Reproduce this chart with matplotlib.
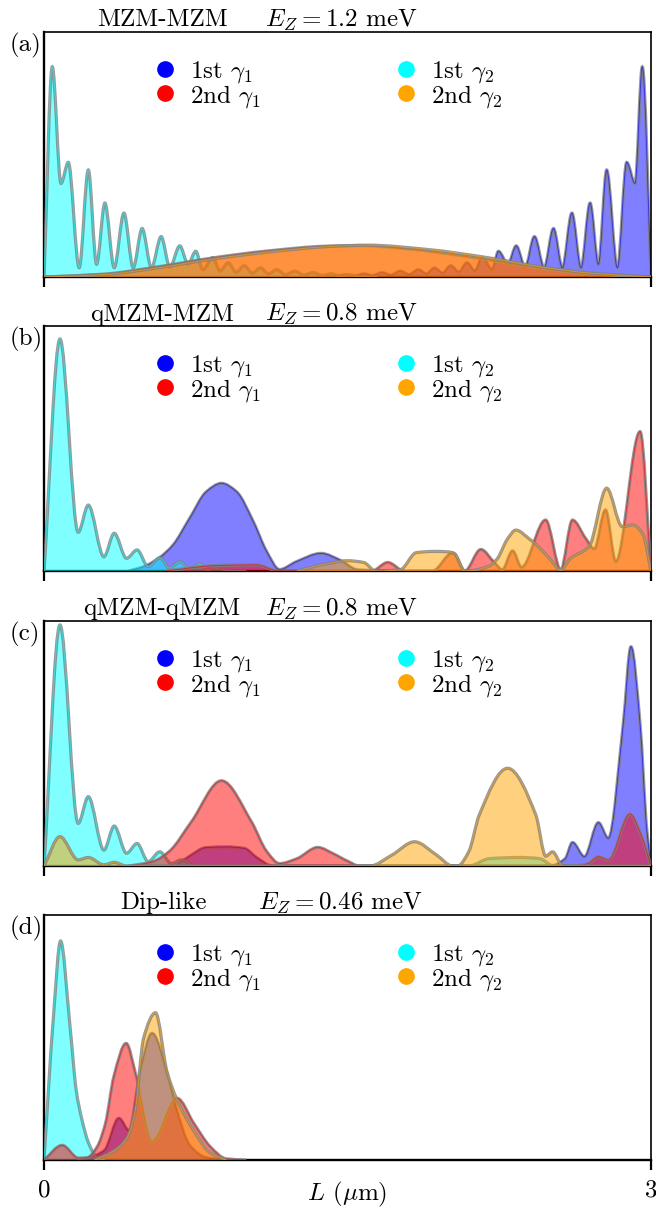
"""Majorana density profiles along the wire for four Zeeman regimes."""

import numpy as np
import matplotlib

matplotlib.use("Agg")
import matplotlib.pyplot as plt
from matplotlib.lines import Line2D
from matplotlib.patches import PathPatch
from matplotlib.path import Path

plt.rcParams["font.family"] = "serif"
plt.rcParams["font.serif"] = ["cmr10"]
plt.rcParams["mathtext.fontset"] = "cm"
plt.rcParams["axes.unicode_minus"] = False

_COLORS = {"blue": "#0000ff", "red": "#ff0000", "cyan": "#00ffff", "orange": "#ffa500"}

# ---- data: L in um, density as fraction of panel height ----
A_BLUE_L = [1.35, 1.44, 1.49, 1.535, 1.58, 1.625, 1.67, 1.715, 1.76, 1.805, 1.85, 1.89,
            1.93, 1.97, 2.01, 2.05, 2.09, 2.13, 2.166, 2.215, 2.246, 2.293, 2.334, 2.378,
            2.424, 2.472, 2.518, 2.562, 2.609, 2.654, 2.699, 2.740, 2.781, 2.834, 2.880,
            2.921, 2.957, 3.0]
A_BLUE_P = [0.0, 0.002, 0.009, 0.004, 0.013, 0.006, 0.018, 0.008, 0.024, 0.010, 0.030, 0.013,
            0.037, 0.016, 0.046, 0.020, 0.058, 0.025, 0.079, 0.030, 0.105, 0.053, 0.127, 0.040,
            0.165, 0.038, 0.198, 0.038, 0.261, 0.038, 0.302, 0.052, 0.437, 0.038, 0.468,
            0.382, 0.858, 0.0]
A_CYAN_L = [0.0, 0.041, 0.084, 0.120, 0.174, 0.219, 0.260, 0.301, 0.347, 0.395, 0.441, 0.485,
            0.531, 0.579, 0.622, 0.671, 0.712, 0.750, 0.785, 0.834, 0.87, 0.91, 0.95, 0.99,
            1.03, 1.07, 1.11, 1.15, 1.195, 1.24, 1.285, 1.33, 1.375, 1.42, 1.465, 1.51, 1.56,
            1.65]
A_CYAN_P = [0.0, 0.858, 0.382, 0.468, 0.038, 0.437, 0.052, 0.302, 0.038, 0.261, 0.038, 0.198,
            0.038, 0.165, 0.040, 0.127, 0.053, 0.105, 0.030, 0.079, 0.025, 0.058, 0.020, 0.046,
            0.016, 0.037, 0.013, 0.030, 0.010, 0.024, 0.008, 0.018, 0.006, 0.013, 0.004, 0.009,
            0.002, 0.0]
A_RED_L = [0.0, 0.3, 0.55, 0.85, 1.1, 1.4, 1.55, 1.8, 2.1, 2.4, 2.7, 3.0]
A_RED_P = [0.0, 0.012, 0.040, 0.080, 0.106, 0.126, 0.128, 0.114, 0.082, 0.043, 0.013, 0.0]
A_ORANGE_L = [0.0, 0.3, 0.55, 0.85, 1.1, 1.4, 1.6, 1.9, 2.2, 2.45, 2.7, 3.0]
A_ORANGE_P = [0.0, 0.010, 0.036, 0.075, 0.101, 0.124, 0.130, 0.112, 0.078, 0.042, 0.016, 0.0]

B_BLUE_L = [0.42, 0.5, 0.572, 0.638, 0.72, 0.803, 0.877, 0.951, 1.033, 1.099, 1.164, 1.247,
            1.37, 1.461, 1.55, 1.7]
B_BLUE_P = [0.0, 0.02, 0.055, 0.106, 0.215, 0.324, 0.358, 0.324, 0.204, 0.082, 0.006, 0.038,
            0.072, 0.045, 0.005, 0.0]
B_CYAN_L = [0.0, 0.079, 0.169, 0.219, 0.296, 0.347, 0.408, 0.460, 0.515, 0.572, 0.62, 0.671,
            0.72, 0.770, 0.81, 0.852, 0.9, 1.0]
B_CYAN_P = [0.0, 0.947, 0.158, 0.269, 0.058, 0.154, 0.052, 0.086, 0.018, 0.054, 0.012, 0.038,
            0.008, 0.029, 0.005, 0.018, 0.003, 0.0]
B_RED_L = [0.6, 0.85, 1.05, 1.16, 1.62, 1.699, 1.78, 1.92, 2.02, 2.08, 2.159, 2.225, 2.265,
           2.316, 2.36, 2.479, 2.554, 2.612, 2.677, 2.72, 2.775, 2.826, 2.946, 3.0]
B_RED_P = [0.0, 0.022, 0.025, 0.0, 0.0, 0.035, 0.0, 0.0, 0.074, 0.0, 0.088, 0.035, 0.005,
           0.082, 0.015, 0.208, 0.004, 0.208, 0.133, 0.09, 0.249, 0.038, 0.569, 0.0]
B_ORANGE_L = [1.25, 1.4, 1.5, 1.58, 1.64, 1.76, 1.84, 1.93, 2.0, 2.03, 2.08, 2.2, 2.24, 2.29,
              2.332, 2.4, 2.43, 2.5, 2.554, 2.6, 2.694, 2.781, 2.858, 2.91, 2.96, 3.0]
B_ORANGE_P = [0.0, 0.03, 0.042, 0.035, 0.0, 0.005, 0.075, 0.08, 0.078, 0.07, 0.0, 0.02, 0.05,
              0.13, 0.167, 0.13, 0.11, 0.05, 0.004, 0.05, 0.10, 0.338, 0.181, 0.188, 0.15, 0.0]

C_BLUE_L = [0.65, 0.72, 0.8, 0.9, 0.99, 1.05, 1.13, 2.5, 2.576, 2.612, 2.671, 2.740, 2.789,
            2.863, 2.901, 2.946, 2.979, 3.0]
C_BLUE_P = [0.0, 0.04, 0.075, 0.078, 0.072, 0.035, 0.0, 0.0, 0.03, 0.096, 0.038, 0.177, 0.113,
            0.582, 0.895, 0.58, 0.15, 0.0]
C_CYAN_L = [0.0, 0.079, 0.169, 0.219, 0.296, 0.347, 0.408, 0.460, 0.515, 0.572, 0.63, 0.68,
            0.75, 2.1, 2.2, 2.35, 2.45, 2.52, 3.0]
C_CYAN_P = [0.0, 0.984, 0.174, 0.283, 0.065, 0.163, 0.052, 0.092, 0.018, 0.058, 0.010, 0.025,
            0.0, 0.0, 0.03, 0.035, 0.03, 0.0, 0.0]
C_RED_L = [0.42, 0.539, 0.62, 0.729, 0.877, 1.025, 1.1, 1.164, 1.25, 1.353, 1.43, 1.5, 1.56,
           2.62, 2.69, 2.740, 2.79, 2.896, 2.954, 3.0]
C_RED_P = [0.0, 0.018, 0.06, 0.181, 0.348, 0.181, 0.06, 0.01, 0.03, 0.076, 0.05, 0.02, 0.0,
           0.0, 0.01, 0.038, 0.025, 0.212, 0.12, 0.0]
C_ORANGE_L = [0.0, 0.079, 0.169, 0.219, 0.296, 0.347, 0.408, 1.61, 1.72, 1.831, 1.94, 2.02,
              2.044, 2.1, 2.151, 2.291, 2.431, 2.48, 2.513, 2.565, 3.0]
C_ORANGE_P = [0.0, 0.12, 0.025, 0.035, 0.005, 0.015, 0.0, 0.0, 0.045, 0.099, 0.045, 0.0,
              0.0, 0.06, 0.208, 0.399, 0.208, 0.04, 0.058, 0.0, 0.0]

D_BLUE_L = [0.2, 0.3, 0.37, 0.42, 0.477, 0.534, 0.608, 0.65, 0.72, 0.8, 0.9]
D_BLUE_P = [0.0, 0.04, 0.17, 0.12, 0.367, 0.517, 0.354, 0.22, 0.06, 0.01, 0.0]
D_CYAN_L = [0.0, 0.046, 0.082, 0.128, 0.16, 0.186, 0.22, 0.26, 0.30]
D_CYAN_P = [0.0, 0.578, 0.894, 0.551, 0.28, 0.17, 0.07, 0.012, 0.0]
D_RED_L = [0.0, 0.09, 0.17, 0.214, 0.263, 0.304, 0.345, 0.406, 0.452, 0.534, 0.658, 0.74,
           0.822, 0.9, 1.0]
D_RED_P = [0.0, 0.06, 0.008, 0.01, 0.054, 0.15, 0.34, 0.476, 0.354, 0.075, 0.252, 0.15,
           0.054, 0.005, 0.0]
D_ORANGE_L = [0.25, 0.33, 0.41, 0.45, 0.493, 0.551, 0.608, 0.658, 0.74, 0.82, 0.9]
D_ORANGE_P = [0.0, 0.03, 0.09, 0.2, 0.5, 0.601, 0.36, 0.245, 0.12, 0.03, 0.0]

NAMES = ["MZM-MZM", "qMZM-MZM", "qMZM-qMZM", "Dip-like"]
EZ_VALUES = ["1.2", "0.8", "0.8", "0.46"]
PANEL_TAGS = ["(a)", "(b)", "(c)", "(d)"]
LEGEND_LABELS = [r"1st $\gamma_1$", r"2nd $\gamma_1$", r"1st $\gamma_2$", r"2nd $\gamma_2$"]

PANELS = [
    [("blue", A_BLUE_L, A_BLUE_P), ("cyan", A_CYAN_L, A_CYAN_P),
     ("red", A_RED_L, A_RED_P), ("orange", A_ORANGE_L, A_ORANGE_P)],
    [("blue", B_BLUE_L, B_BLUE_P), ("cyan", B_CYAN_L, B_CYAN_P),
     ("red", B_RED_L, B_RED_P), ("orange", B_ORANGE_L, B_ORANGE_P)],
    [("blue", C_BLUE_L, C_BLUE_P), ("cyan", C_CYAN_L, C_CYAN_P),
     ("red", C_RED_L, C_RED_P), ("orange", C_ORANGE_L, C_ORANGE_P)],
    [("blue", D_BLUE_L, D_BLUE_P), ("cyan", D_CYAN_L, D_CYAN_P),
     ("red", D_RED_L, D_RED_P), ("orange", D_ORANGE_L, D_ORANGE_P)],
]

# layout in figure pixels (656 x 1209)
_W, _H = 656, 1209
_LEFT, _RIGHT = 44, 651
_TOPS = [32, 326, 621, 915]
_PANEL_H = 245
_NAME_X = [97, 90, 83, 120]
_EZ_X = [265, 265, 265, 258]
_FS = 18


def _slopes(x, y):
    """Shape-preserving tangents so the drawn curve never overshoots a read point."""
    h = np.diff(x)
    d = np.diff(y) / h
    m = np.zeros_like(y)
    for k in range(1, len(x) - 1):
        if d[k - 1] * d[k] > 0:
            w1 = 2 * h[k] + h[k - 1]
            w2 = h[k] + 2 * h[k - 1]
            m[k] = (w1 + w2) / (w1 / d[k - 1] + w2 / d[k])
    m[0] = d[0]
    m[-1] = d[-1]
    return m


def _curve(xs, ys, closed):
    x = np.asarray(xs, float)
    y = np.asarray(ys, float)
    m = _slopes(x, y)
    if closed:
        verts = [(x[0], 0.0), (x[0], y[0])]
        codes = [Path.MOVETO, Path.LINETO]
    else:
        verts = [(x[0], y[0])]
        codes = [Path.MOVETO]
    for i in range(len(x) - 1):
        h = x[i + 1] - x[i]
        verts += [
            (x[i] + h / 3, y[i] + m[i] * h / 3),
            (x[i + 1] - h / 3, y[i + 1] - m[i + 1] * h / 3),
            (x[i + 1], y[i + 1]),
        ]
        codes += [Path.CURVE4] * 3
    if closed:
        verts += [(x[-1], 0.0), (x[0], 0.0)]
        codes += [Path.LINETO, Path.CLOSEPOLY]
    return Path(verts, codes)


def _render_panel(ax, curves, index):
    z = 2
    for color, xs, ys in curves:
        c = _COLORS[color]
        ax.add_patch(PathPatch(_curve(xs, ys, True), facecolor=c, edgecolor="none",
                               alpha=0.5, zorder=z))
        ax.add_patch(PathPatch(_curve(xs, ys, False), fill=False, edgecolor="#808080",
                               lw=2.3, alpha=0.8, zorder=z + 0.1))
        ax.add_patch(PathPatch(_curve(xs, ys, False), fill=False, edgecolor=c,
                               lw=0.7, alpha=0.6, zorder=z + 0.2))
        z += 1

    ax.set_xlim(0, 3)
    ax.set_ylim(0, 1)
    ax.set_yticks([])
    ax.set_xticks([0, 3])
    ax.tick_params(axis="x", direction="out", length=7.2, width=1.6, pad=7,
                   labelsize=_FS, labelbottom=(index == 3))
    for side in ("left", "bottom"):
        ax.spines[side].set_linewidth(1.7)
    for side in ("top", "right"):
        ax.spines[side].set_linewidth(1.2)

    ty = 1 + 5.5 / _PANEL_H
    ax.text((_NAME_X[index] - _LEFT) / (_RIGHT - _LEFT), ty, NAMES[index],
            transform=ax.transAxes, ha="left", va="baseline", fontsize=_FS)
    ax.text((_EZ_X[index] - _LEFT) / (_RIGHT - _LEFT), ty,
            rf"$E_Z = {EZ_VALUES[index]}$ meV",
            transform=ax.transAxes, ha="left", va="baseline", fontsize=_FS)
    ax.text((10 - _LEFT) / (_RIGHT - _LEFT), 1 - 19 / _PANEL_H, PANEL_TAGS[index],
            transform=ax.transAxes, ha="left", va="baseline", fontsize=_FS)

    handles = [
        Line2D([], [], ls="none", marker="o", markersize=11, color=_COLORS[k])
        for k in ("blue", "red", "cyan", "orange")
    ]
    ax.legend(handles, LEGEND_LABELS, loc="upper left", bbox_to_anchor=(0.183, 0.889),
              ncol=2, frameon=False, fontsize=_FS, handlelength=0.8, handletextpad=0.6,
              columnspacing=5.4, labelspacing=-0.1, borderpad=0, borderaxespad=0)


def main():
    fig = plt.figure(figsize=(_W / 100, _H / 100), dpi=100)
    axes = []
    for i, top in enumerate(_TOPS):
        rect = (_LEFT / _W, 1 - (top + _PANEL_H) / _H, (_RIGHT - _LEFT) / _W, _PANEL_H / _H)
        ax = fig.add_axes(rect)
        _render_panel(ax, PANELS[i], i)
        axes.append(ax)

    axes[-1].set_xlabel(r"$L$ ($\mu$m)", fontsize=_FS)
    axes[-1].xaxis.set_label_coords(0.5, -20 / _PANEL_H)

    fig.savefig("out.png", dpi=100)
    plt.close(fig)


if __name__ == "__main__":
    main()
